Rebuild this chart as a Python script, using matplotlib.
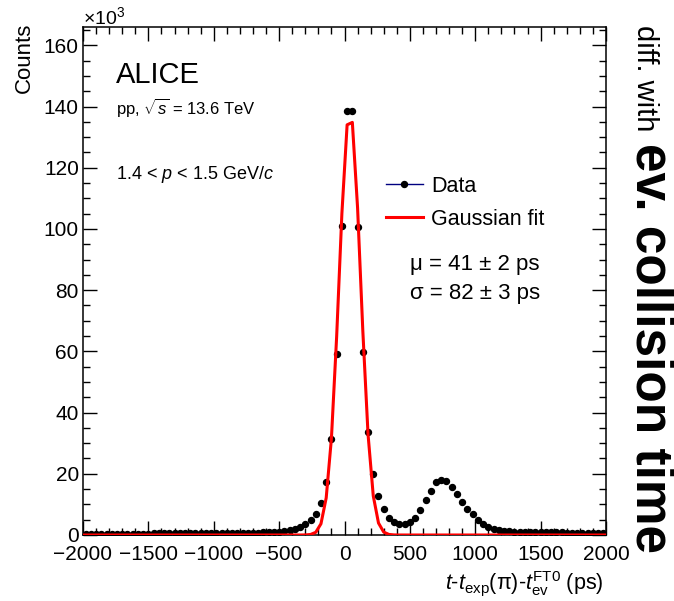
import matplotlib as mpl
mpl.use('Agg')
import matplotlib.pyplot as plt
from matplotlib.lines import Line2D
from matplotlib.ticker import MultipleLocator
import numpy as np

plt.rcParams['font.family'] = ['Liberation Sans', 'DejaVu Sans']
plt.rcParams['mathtext.fontset'] = 'custom'
plt.rcParams['mathtext.rm'] = 'Liberation Sans'
plt.rcParams['mathtext.it'] = 'Liberation Sans:italic'
plt.rcParams['mathtext.bf'] = 'Liberation Sans:bold'

# histogram: 100 bins of 40 ps between -2000 and 2000 ps
bin_edges = np.linspace(-2000, 2000, 101)
bin_centers = 0.5 * (bin_edges[:-1] + bin_edges[1:])

# counts (x10^3), one per bin
counts = [
    0.4, 0.4, 0.4, 0.4, 0.4, 0.4, 0.4, 0.45, 0.45, 0.45,
    0.45, 0.45, 0.45, 0.5, 0.5, 0.5, 0.5, 0.5, 0.5, 0.5,
    0.55, 0.55, 0.55, 0.55, 0.6, 0.6, 0.6, 0.6, 0.65, 0.65,
    0.7, 0.7, 0.75, 0.8, 0.85, 0.9,
    0.95, 1.0, 1.2, 1.5, 2.0, 2.6, 3.6, 5.0, 7.0, 10.3,
    17.3, 31.5, 59.0, 101.0, 138.6, 138.4, 100.6, 59.7, 33.8, 19.9,
    12.7, 8.6, 5.7, 4.3, 3.5, 3.6, 4.3, 5.6, 8.1, 11.5,
    14.4, 17.2, 18.0, 17.8, 15.8, 13.5, 10.8, 8.4, 6.7, 4.8,
    3.5, 2.5, 1.9, 1.5, 1.3, 1.2,
    1.1, 1.05, 1.0, 1.0, 0.95, 0.95, 0.9, 0.9, 0.85, 0.85,
    0.8, 0.8, 0.8, 0.75, 0.75, 0.75, 0.7, 0.7,
]

# gaussian fit parameters
fit_mu = 41.0
fit_sigma = 82.0
fit_amp = 138.5

fit_x = np.concatenate(([-2000.0], bin_centers, [2000.0]))
fit_y = fit_amp * np.exp(-0.5 * ((fit_x - fit_mu) / fit_sigma) ** 2)

W, H = 674, 601
fig = plt.figure(figsize=(W / 100, H / 100), dpi=100)
ax = fig.add_axes([83 / W, 1 - 535 / H, (606 - 83) / W, (535 - 27) / H])

ax.plot(bin_centers, counts, 'o', color='black', ms=4.3, zorder=2)
ax.plot(fit_x, fit_y, color='red', lw=2.2, zorder=3)

ax.set_xlim(-2000, 2000)
ax.set_ylim(0, 166)
ax.xaxis.set_major_locator(MultipleLocator(500))
ax.xaxis.set_minor_locator(MultipleLocator(100))
ax.yaxis.set_major_locator(MultipleLocator(20))
ax.yaxis.set_minor_locator(MultipleLocator(5))
ax.tick_params(which='both', direction='in', top=True, right=True, labelsize=15, width=1)
ax.tick_params(which='major', length=10)
ax.tick_params(which='minor', length=5)
ax.tick_params(axis='x', which='major', pad=7)
ax.tick_params(axis='y', which='major', pad=3)
for s in ax.spines.values():
    s.set_linewidth(1.1)

fig.text(83 / W, 1 - 17 / H, r'$\times10^{3}$', fontsize=14, va='center', ha='left')
fig.text(24 / W, 1 - 23 / H, 'Counts', rotation=90, fontsize=16, ha='center', va='top')
fig.text(604 / W, 1 - 589 / H,
         r'$t$-$t_{\mathrm{exp}}$(π)-$t_{\mathrm{ev}}^{\mathrm{FT0}}$ (ps)',
         fontsize=15.5, ha='right', va='baseline')

ax.text(116 / W, 1 - 83 / H, 'ALICE', transform=fig.transFigure, fontsize=21, va='baseline')
ax.text(116 / W, 1 - 114 / H, r'pp, $\sqrt{s}$ = 13.6 TeV', transform=fig.transFigure,
        fontsize=12, va='baseline')
ax.text(116 / W, 1 - 179 / H, r'1.4 < $p$ < 1.5 GeV/$c$', transform=fig.transFigure,
        fontsize=13, va='baseline')

handles = [
    Line2D([], [], color='navy', lw=1, marker='o', mfc='black', mec='black', ms=4.3),
    Line2D([], [], color='red', lw=2.2),
]
ax.legend(handles, ['Data', 'Gaussian fit'], loc='upper left',
          bbox_to_anchor=(386 / W, 1 - 176 / H), bbox_transform=fig.transFigure,
          frameon=False, fontsize=15.5, handlelength=1.7, handletextpad=0.4,
          labelspacing=0.55, borderpad=0, borderaxespad=0)

ax.text(410 / W, 1 - 264 / H, 'μ = 41 ± 2 ps', transform=fig.transFigure,
        fontsize=16, va='center')
ax.text(410 / W, 1 - 294 / H, 'σ = 82 ± 3 ps', transform=fig.transFigure,
        fontsize=16, va='center')

fig.text(637 / W, 1 - 25 / H, 'diff. with', rotation=270, rotation_mode='anchor',
         fontsize=21, ha='left', va='baseline')
fig.text(637 / W, 1 - 143 / H, 'ev. collision time', rotation=270, rotation_mode='anchor',
         fontsize=37, fontweight='bold', ha='left', va='baseline')

fig.savefig('out.png', dpi=100)
